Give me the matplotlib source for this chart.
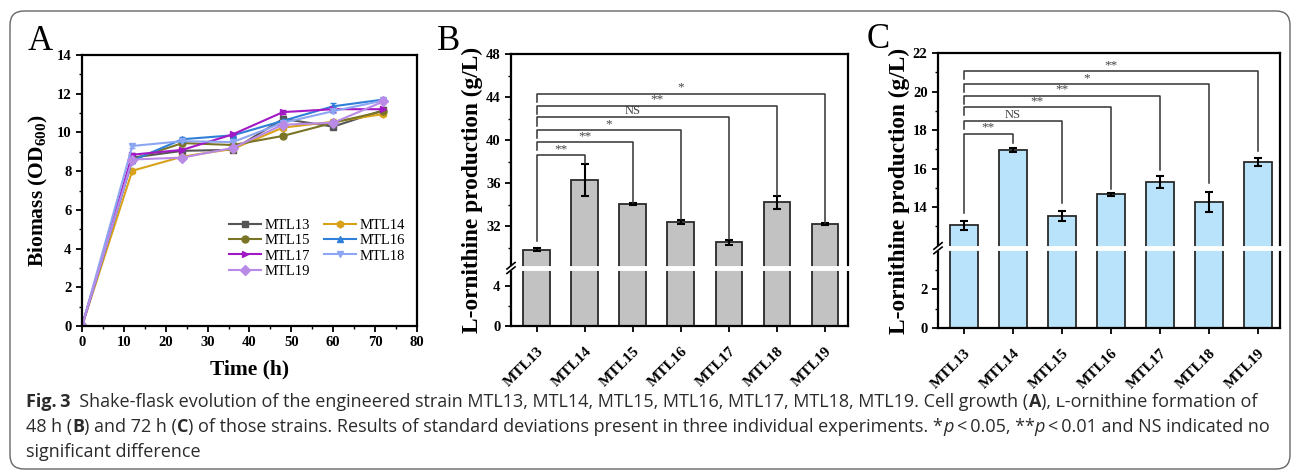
import numpy as np
import matplotlib
matplotlib.use("Agg")
import matplotlib.pyplot as plt
from matplotlib.patches import FancyBboxPatch
from matplotlib.lines import Line2D
from matplotlib.transforms import IdentityTransform, ScaledTranslation
from matplotlib.ticker import FixedLocator

W, H = 1293, 471

# ---------------- data ----------------
strains = ["MTL13", "MTL14", "MTL15", "MTL16", "MTL17", "MTL18", "MTL19"]
time_h = [0, 12, 24, 36, 48, 60, 72]
growth = {
    "MTL13": [0, 8.70, 9.05, 9.10, 10.70, 10.30, 11.15],
    "MTL14": [0, 8.02, 8.75, 9.15, 10.25, 10.55, 10.95],
    "MTL15": [0, 8.60, 9.45, 9.35, 9.82, 10.50, 11.10],
    "MTL16": [0, 8.55, 9.65, 9.85, 10.60, 11.35, 11.70],
    "MTL17": [0, 8.85, 9.10, 9.90, 11.05, 11.20, 11.20],
    "MTL18": [0, 9.30, 9.55, 9.50, 10.50, 11.10, 11.65],
    "MTL19": [0, 8.60, 8.70, 9.20, 10.40, 10.50, 11.60],
}
growth_err = {
    "MTL13": [0, 0.25, 0.10, 0.10, 0.15, 0.12, 0.10],
    "MTL14": [0, 0.10, 0.10, 0.10, 0.12, 0.15, 0.08],
    "MTL15": [0, 0.10, 0.08, 0.08, 0.08, 0.10, 0.08],
    "MTL16": [0, 0.12, 0.10, 0.08, 0.12, 0.15, 0.10],
    "MTL17": [0, 0.10, 0.10, 0.08, 0.12, 0.12, 0.10],
    "MTL18": [0, 0.08, 0.10, 0.10, 0.10, 0.10, 0.10],
    "MTL19": [0, 0.10, 0.10, 0.10, 0.12, 0.12, 0.10],
}
colors = {
    "MTL13": "#555555", "MTL14": "#D9A21B", "MTL15": "#7A7526",
    "MTL16": "#2F7FD8", "MTL17": "#A218C4", "MTL18": "#8DA6F2",
    "MTL19": "#B98BE6",
}
markers = {
    "MTL13": "s", "MTL14": "h", "MTL15": "o", "MTL16": "^",
    "MTL17": ">", "MTL18": "v", "MTL19": "D",
}

# ornithine production at 48 h (B) and 72 h (C)
orn48 = [29.80, 36.25, 34.05, 32.40, 30.48, 34.20, 32.16]
orn48_err = [0.12, 1.50, 0.08, 0.20, 0.22, 0.60, 0.08]
sig48 = ["**", "**", "*", "NS", "**", "*"]
orn72 = [13.05, 16.95, 13.55, 14.67, 15.31, 14.27, 16.33]
orn72_err = [0.22, 0.10, 0.27, 0.08, 0.30, 0.50, 0.22]
sig72 = ["**", "NS", "**", "**", "*", "**"]

caption = [
    [("Fig.\u20093", "bold", "normal"),
     ("  Shake-flask evolution of the engineered strain MTL13, MTL14, MTL15, MTL16, MTL17, MTL18, MTL19. Cell growth (", "normal", "normal"),
     ("A", "bold", "normal"), ("), \u029f-ornithine formation of", "normal", "normal")],
    [("48 h (", "normal", "normal"), ("B", "bold", "normal"), (") and 72 h (", "normal", "normal"),
     ("C", "bold", "normal"),
     (") of those strains. Results of standard deviations present in three individual experiments. *", "normal", "normal"),
     ("p", "normal", "italic"), ("\u2009<\u20090.05, **", "normal", "normal"), ("p", "normal", "italic"),
     ("\u2009<\u20090.01 and NS indicated no", "normal", "normal")],
    [("significant difference", "normal", "normal")],
]

# ---------------- style ----------------
plt.rcParams["font.family"] = ["Liberation Serif", "DejaVu Serif"]
plt.rcParams["font.weight"] = "bold"
plt.rcParams["mathtext.fontset"] = "custom"
plt.rcParams["mathtext.rm"] = "Liberation Serif:bold"
plt.rcParams["mathtext.it"] = "Liberation Serif:bold"
plt.rcParams["mathtext.bf"] = "Liberation Serif:bold"
plt.rcParams["axes.linewidth"] = 1.6
plt.rcParams["xtick.major.width"] = 1.3
plt.rcParams["ytick.major.width"] = 1.3
plt.rcParams["xtick.minor.width"] = 1.0
plt.rcParams["ytick.minor.width"] = 1.0

fig = plt.figure(figsize=(W / 100, H / 100), dpi=100)


def axes_px(left, top, right, bottom):
    return fig.add_axes([left / W, 1 - bottom / H, (right - left) / W, (bottom - top) / H])


def break_scale(lo_top, hi_bot, s1, s2):
    eps = 0.001
    xp = [-1000.0, lo_top, hi_bot, 2000.0]
    f1 = lo_top * s1
    f2 = f1 + (hi_bot - lo_top) * eps
    fp = [-1000.0 * s1, f1, f2, f2 + (2000.0 - hi_bot) * s2]
    fwd = lambda y: np.interp(y, xp, fp)
    inv = lambda v: np.interp(v, fp, xp)
    return fwd, inv


TICK_FS = 10.5

# ---------------- panel A ----------------
axA = axes_px(82, 55, 417, 326)
for s in strains:
    axA.errorbar(time_h, growth[s], yerr=growth_err[s], color=colors[s], marker=markers[s],
                 markersize=5, lw=1.5, capsize=2, elinewidth=1)
axA.set_xlim(0, 80)
axA.set_ylim(0, 14)
axA.set_xticks(np.arange(0, 81, 10))
axA.set_yticks(np.arange(0, 15, 2))
axA.xaxis.set_minor_locator(FixedLocator(np.arange(5, 80, 10)))
axA.yaxis.set_minor_locator(FixedLocator(np.arange(1, 14, 2)))
axA.tick_params(which="major", direction="out", length=4, labelsize=TICK_FS)
axA.tick_params(which="minor", direction="out", length=2.5)
axA.set_xlabel("Time (h)", fontsize=15.5, fontweight="bold")
axA.set_ylabel("Biomass (OD$_{600}$)", fontsize=15.5, fontweight="bold")
axA.xaxis.set_label_coords(0.5, -0.125)
axA.yaxis.set_label_coords(-0.095, 0.5)
order = ["MTL13", "MTL15", "MTL17", "MTL19", "MTL14", "MTL16", "MTL18"]
handles = [Line2D([], [], color=colors[s], marker=markers[s], markersize=5, lw=1.5) for s in order]
axA.legend(handles, order, ncol=2, frameon=False,
           loc="upper left", bbox_to_anchor=(0.4, 0.445),
           prop={"family": "Liberation Serif", "weight": "normal", "size": 10.5},
           handlelength=2.2, handletextpad=0.2, columnspacing=1.0, labelspacing=0.15)


# ---------------- bar panels ----------------
def bar_panel(ax, vals, errs, sigs, color, lo_top, hi_bot, s1, s2, ylim, yticks, yminor,
              levels, rights, left_low, leg, xlim, lab_x):
    fwd, inv = break_scale(lo_top, hi_bot, s1, s2)
    ax.set_yscale("function", functions=(fwd, inv))
    x = np.arange(len(strains))
    ax.bar(x, vals, width=0.56, color=color, edgecolor="#2a2a2a", lw=1.3, zorder=2)
    ax.errorbar(x, vals, yerr=errs, fmt="none", ecolor="black", elinewidth=1.5,
                capsize=3, capthick=1.5, zorder=3)
    ax.set_xlim(*xlim)
    ax.set_ylim(*ylim)
    ax.set_yticks(yticks)
    ax.yaxis.set_minor_locator(FixedLocator(yminor))
    ax.set_xticks(x)
    ax.tick_params(which="major", direction="out", length=4, labelsize=TICK_FS)
    ax.tick_params(which="minor", direction="out", length=2.5)
    ax.tick_params(axis="x", which="minor", length=0)
    ax.set_xticklabels(strains, rotation=45, ha="right", va="top", fontsize=11)
    off = ScaledTranslation(9 / 100, -8 / 100, fig.dpi_scale_trans)
    for t in ax.get_xticklabels():
        t.set_transform(t.get_transform() + off)
    ax.set_ylabel("L-ornithine production (g/L)", fontsize=16.8, fontweight="bold")
    ax.yaxis.set_label_coords(lab_x, 0.5)

    # white break band
    ymid = (lo_top + hi_bot) / 2
    ax.axhline(ymid, color="white", lw=3.5, zorder=4, clip_on=False)
    # break marks on left spine
    yfrac = ax.transAxes.inverted().transform(ax.transData.transform((0, ymid)))[1]
    for dy in (-2.2, 2.2):
        ax.plot([-0.012, 0.012], [yfrac + dy / 272 - 0.012, yfrac + dy / 272 + 0.012],
                transform=ax.transAxes, color="black", lw=1.2, clip_on=False, zorder=6)

    # significance brackets
    for i, (lev, yr, s) in enumerate(zip(levels, rights, sigs)):
        j = i + 1
        yl = left_low if i == 0 else lev - leg
        ax.plot([0, 0, j, j], [yl, lev, lev, yr], color="#333333", lw=1.1, zorder=3)
        ax.text(j / 2, lev, s, ha="center", va="bottom", fontsize=9.5 if s != "NS" else 9,
                fontweight="normal", color="#444444")


axB = axes_px(511, 54, 848, 326)
bar_panel(axB, orn48, orn48_err, sig48, "#C2C2C2", 5.8, 28.1, 10.0, 10.75, (0, 48),
          [0, 4, 32, 36, 40, 44, 48], [2, 30, 34, 38, 42, 46],
          [38.6, 39.8, 40.9, 42.1, 43.2, 44.3], [37.85, 34.15, 32.7, 30.8, 34.85, 32.3],
          30.6, 0.75, (-0.54, 6.48), -0.083)

axC = axes_px(938, 53, 1280, 328)
bar_panel(axC, orn72, orn72_err, sig72, "#B9E3FA", 4.1, 11.87, 19.5, 19.3, (0, 22),
          [0, 2, 14, 16, 18, 20, 22], [1, 3, 13, 15, 17, 19, 21],
          [17.81, 18.47, 19.18, 19.78, 20.39, 21.06], [17.35, 14.24, 14.93, 15.93, 15.24, 16.93],
          13.69, 0.42, (-0.53, 6.45), -0.082)

# panel letters
for letter, px, py in (("A", 40, 42), ("B", 449, 42), ("C", 878, 40)):
    fig.text(px / W, 1 - py / H, letter, fontsize=25, fontweight="normal",
             ha="center", va="center", family="Liberation Serif")

# outer rounded frame
fig.add_artist(FancyBboxPatch((10, 2), 1280, H - 11 - 2,
                              boxstyle="round,pad=0,rounding_size=14",
                              transform=IdentityTransform(), fill=False,
                              edgecolor="#666666", lw=1.0))

# caption
renderer = fig.canvas.get_renderer()
cap_fam = ["Open Sans", "DejaVu Sans"]
cap_fs = 12.95
for k, line in enumerate(caption):
    xpx = 26
    ypx = 402 + k * 25
    for txt, wt, st in line:
        t = fig.text(xpx / W, 1 - ypx / H, txt, fontsize=cap_fs, fontweight=wt, fontstyle=st,
                     family=cap_fam, color="#2b2b2b", va="center", ha="left")
        xpx += t.get_window_extent(renderer).width

fig.savefig("out.png", dpi=100)
